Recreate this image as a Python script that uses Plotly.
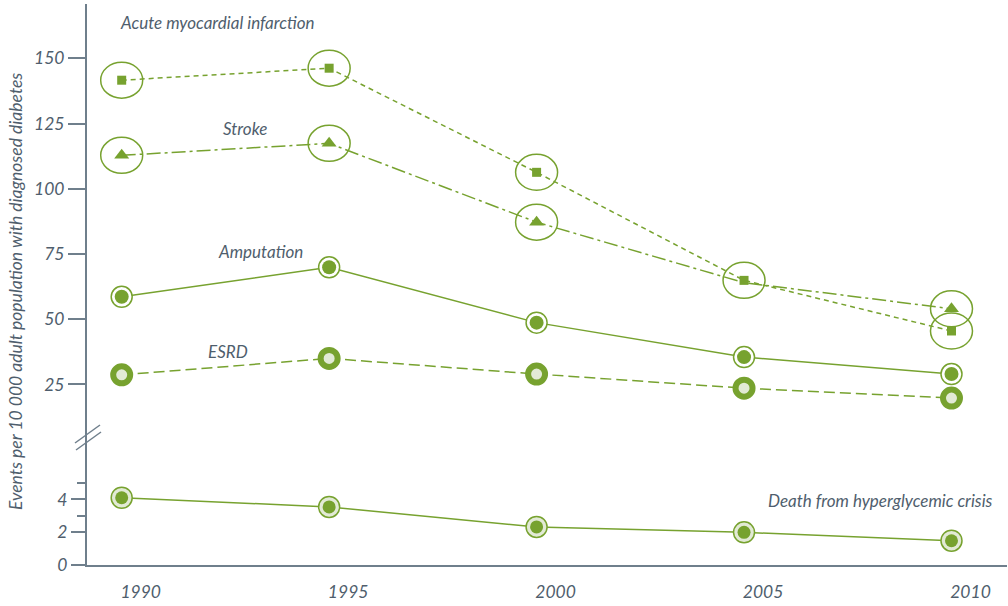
import plotly.graph_objects as go

# ---- data -------------------------------------------------------------
years = [1990, 1995, 2000, 2005, 2010]
acute_mi = [141.6, 146.2, 106.3, 64.9, 45.5]
stroke = [112.8, 117.4, 87.2, 64.0, 54.0]
amputation = [58.6, 69.9, 48.7, 35.5, 29.0]
esrd = [28.7, 35.0, 29.0, 23.6, 19.8]
hyperglycemic_death = [4.10, 3.54, 2.32, 1.99, 1.48]

upper_ticks = [25, 50, 75, 100, 125, 150]
lower_ticks = [0, 2, 4]
lower_minor = [3, 5]
year_labels = ["1990", "1995", "2000", "2005", "2010"]

# ---- styling ----------------------------------------------------------
GREEN = "#77a22f"
LIGHT = "#e2ead5"
TEXT = "#4f5e6d"
AXIS = "#6f7f8c"
FONT = "Lato"

W, H = 1008, 606
L, R, T, B = 87, 1, 4, 41
PW, PH = W - L - R, H - T - B
BREAK_Y = 440  # pixel row where the two y segments meet


def px(x):
    return (x - L) / PW


def py(y):
    return (H - B - y) / PH


lower_frac = py(BREAK_Y)

fig = go.Figure()

# Acute myocardial infarction: short dashes, squares
fig.add_trace(go.Scatter(
    x=years, y=acute_mi, mode="lines+markers", yaxis="y",
    line=dict(color=GREEN, width=1.5, dash="5px,4px"),
    marker=dict(symbol="square", size=9, color=GREEN),
))

# Stroke: dash-dot line, then triangles (the 2005 point sits in the AMI ring)
fig.add_trace(go.Scatter(
    x=years, y=stroke, mode="lines", yaxis="y",
    line=dict(color=GREEN, width=1.5, dash="14px,4px,3px,4px"),
))
stroke_shown = [i for i, yr in enumerate(years) if yr != 2005]
fig.add_trace(go.Scatter(
    x=[years[i] for i in stroke_shown], y=[stroke[i] for i in stroke_shown],
    mode="markers", yaxis="y",
    marker=dict(symbol="triangle-up", size=13, color=GREEN, opacity=1,
                line=dict(width=0)),
))

# Amputation: solid line, ringed dots
fig.add_trace(go.Scatter(
    x=years, y=amputation, mode="lines+markers", yaxis="y",
    line=dict(color=GREEN, width=1.5),
    marker=dict(symbol="circle", size=21, color="white",
                line=dict(color=GREEN, width=1.5)),
))
fig.add_trace(go.Scatter(
    x=years, y=amputation, mode="markers", yaxis="y",
    marker=dict(symbol="circle", size=14, color=GREEN),
))

# ESRD: long dashes, thick rings
fig.add_trace(go.Scatter(
    x=years, y=esrd, mode="lines+markers", yaxis="y",
    line=dict(color=GREEN, width=1.5, dash="11px,5px"),
    marker=dict(symbol="circle", size=17, color=LIGHT,
                line=dict(color=GREEN, width=6)),
))

# Death from hyperglycemic crisis (lower segment)
fig.add_trace(go.Scatter(
    x=years, y=hyperglycemic_death, mode="lines+markers", yaxis="y2",
    line=dict(color=GREEN, width=1.5),
    marker=dict(symbol="circle", size=21, color=LIGHT,
                line=dict(color=GREEN, width=1.5)),
))
fig.add_trace(go.Scatter(
    x=years, y=hyperglycemic_death, mode="markers", yaxis="y2",
    marker=dict(symbol="circle", size=13, color=GREEN),
))

# Ellipses around the AMI and stroke points
shapes = []
ringed = [(yr, v) for yr, v in zip(years, acute_mi)]
ringed += [(years[i], stroke[i]) for i in stroke_shown]
for yr, val in ringed:
    shapes.append(dict(
        type="circle", xref="x", yref="y",
        xsizemode="pixel", ysizemode="pixel",
        xanchor=yr, yanchor=val,
        x0=-21, x1=21, y0=-18, y1=18,
        line=dict(color=GREEN, width=1.5),
    ))

# Axis break marks
for (x0, y0, x1, y1) in ((75, 443, 100, 425), (76, 450, 101, 432)):
    shapes.append(dict(
        type="line", xref="paper", yref="paper",
        x0=px(x0), y0=py(y0), x1=px(x1), y1=py(y1),
        line=dict(color=AXIS, width=1.5),
    ))

tick_font = dict(family=FONT, size=17.5, color=TEXT, style="italic")
label_font = dict(family=FONT, size=17, color=TEXT, style="italic")

annotations = [
    dict(text="Acute myocardial infarction", x=px(118), y=py(23),
         xanchor="left", yanchor="middle"),
    dict(text="Stroke", x=px(245), y=py(128), xanchor="center", yanchor="middle"),
    dict(text="Amputation", x=px(260), y=py(252), xanchor="center", yanchor="middle"),
    dict(text="ESRD", x=px(228), y=py(351), xanchor="center", yanchor="middle"),
    dict(text="Death from hyperglycemic crisis", x=px(995), y=py(500),
         xanchor="right", yanchor="middle"),
    dict(text="Events per 10 000 adult population with diagnosed diabetes",
         x=px(15), y=py(292), xanchor="center", yanchor="middle", textangle=-90,
         font=dict(family=FONT, size=17.5, color=TEXT, style="italic")),
]
for a in annotations:
    a.update(xref="paper", yref="paper", showarrow=False)
    a.setdefault("font", label_font)

fig.update_layout(
    width=W, height=H,
    margin=dict(l=L, r=R, t=T, b=B),
    paper_bgcolor="white", plot_bgcolor="white",
    showlegend=False,
    shapes=shapes,
    annotations=annotations,
    xaxis=dict(
        range=[1989.164, 2011.338], anchor="y2",
        tickvals=years, ticktext=year_labels, ticks="",
        ticklabelshift=19, ticklabelstandoff=10,
        showline=True, linecolor=AXIS, linewidth=2,
        showgrid=False, zeroline=False, tickfont=tick_font,
    ),
    yaxis=dict(
        domain=[lower_frac, 1], range=[3.73, 170.8], anchor="x",
        tickvals=upper_ticks, ticks="outside", ticklen=17,
        tickcolor=AXIS, tickwidth=1.5,
        showline=True, linecolor=AXIS, linewidth=2,
        showgrid=False, zeroline=False, tickfont=tick_font,
    ),
    yaxis2=dict(
        domain=[0, lower_frac], range=[0, 125 / 16.4], anchor="x",
        tickvals=lower_ticks, ticks="outside", ticklen=14,
        tickcolor=AXIS, tickwidth=1.5,
        minor=dict(tickvals=lower_minor, ticks="outside", ticklen=8,
                   tickcolor=AXIS, tickwidth=1.5),
        showline=True, linecolor=AXIS, linewidth=2,
        showgrid=False, zeroline=False, tickfont=tick_font,
    ),
)

fig.write_html("out.html")
